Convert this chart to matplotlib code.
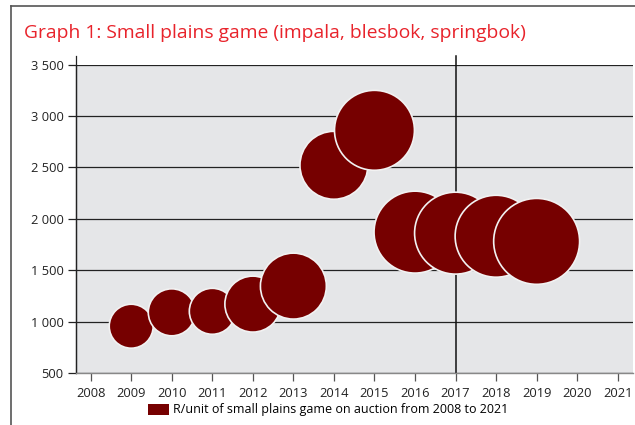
import matplotlib
matplotlib.use("Agg")
import matplotlib.pyplot as plt
from matplotlib.patches import Patch
from matplotlib.lines import Line2D
from matplotlib.ticker import FuncFormatter

# ---- data ----
years = [2009, 2010, 2011, 2012, 2013, 2014, 2015, 2016, 2017, 2018, 2019]
price_per_unit = [955, 1090, 1100, 1170, 1345, 2520, 2860, 1870, 1860, 1830, 1780]
bubble_volume = [484, 552, 529, 784, 1089, 1156, 1600, 1681, 1681, 1681, 1849]
x_ticks = list(range(2008, 2022))
y_ticks = [500, 1000, 1500, 2000, 2500, 3000, 3500]
title = "Graph 1: Small plains game (impala, blesbok, springbok)"
legend_label = "R/unit of small plains game on auction from 2008 to 2021"

W, H = 635, 425
fig = plt.figure(figsize=(W / 100, H / 100), dpi=100)
plt.rcParams['font.family'] = ['Open Sans', 'DejaVu Sans']

L, R, T, B = 76, 633, 64.5, 373
ax = fig.add_axes([L / W, 1 - B / H, (R - L) / W, (B - T) / H])
ax.set_facecolor('#e5e6e8')
ax.set_xlim(2007.638, 2021.377)
ax.set_ylim(500, 3500)

ax.set_yticks(y_ticks)
ax.set_xticks(x_ticks)
ax.yaxis.set_major_formatter(FuncFormatter(lambda v, p: f"{int(v):,}".replace(",", " ")))
ax.grid(axis='y', color='#222222', linewidth=0.9)
ax.set_axisbelow(True)
ax.tick_params(axis='y', length=6, width=0.9, color='#222222', labelsize=9.3, pad=3, labelcolor='#222222')
ax.tick_params(axis='x', length=6, width=0.9, color='#555555', labelsize=9.3, pad=4, labelcolor='#222222')

for s in ['top', 'right']:
    ax.spines[s].set_visible(False)
ax.spines['bottom'].set_color('#888888')
ax.spines['bottom'].set_linewidth(1.0)
ax.spines['left'].set_color('#222222')
ax.spines['left'].set_linewidth(0.9)

# extended left axis line and 2017 reference line
ax.plot([2007.638, 2007.638], [500, 3580], color='#222222', lw=0.9, clip_on=False, zorder=1.5)
ax.plot([2017, 2017], [500, 3580], color='#111111', lw=1.1, clip_on=False, zorder=1.5)

ax.scatter(years, price_per_unit, s=[v * 2.07 for v in bubble_volume],
           color='#760000', edgecolors='#f2f2f2', linewidths=1.2, zorder=3)

fig.text(24 / W, 1 - 33 / H, title, color='#e8232b', fontsize=13.9,
         ha='left', va='center')

fig.legend(handles=[Patch(facecolor='#760000', edgecolor='none')], labels=[legend_label],
           loc='center', bbox_to_anchor=(328 / W, 1 - 410 / H), frameon=False,
           fontsize=9.0, handlelength=1.7, handleheight=1.0, handletextpad=0.3)

# figure frame lines
fig.add_artist(Line2D([11 / W, 1], [1 - 6 / H, 1 - 6 / H], color='#555555', lw=1.2))
fig.add_artist(Line2D([11 / W, 11 / W], [0, 1 - 6 / H], color='#555555', lw=1.2))

fig.savefig('out.png', dpi=100)
